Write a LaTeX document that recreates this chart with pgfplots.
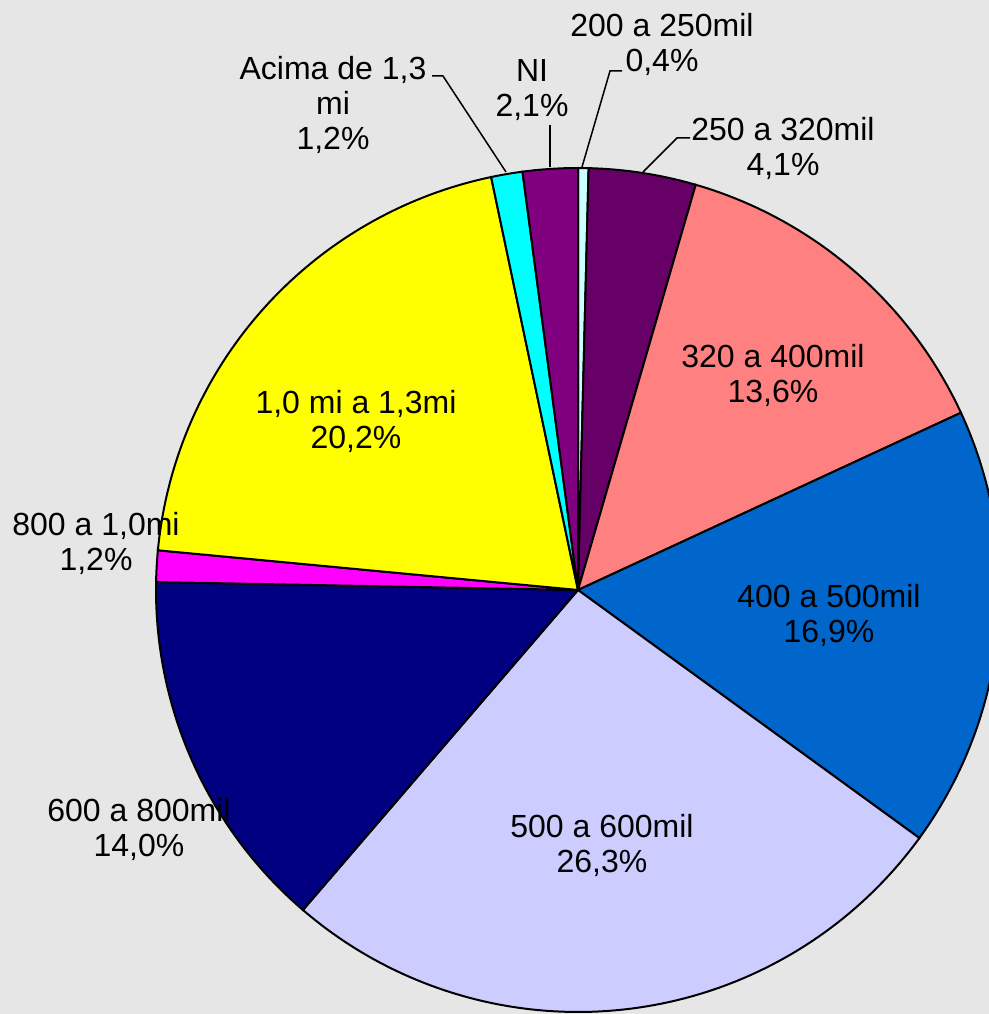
\documentclass[border=0pt]{standalone}
\usepackage{pgfplots}
\pgfplotsset{compat=1.18}
\usepackage{fontspec}
\setmainfont{Liberation Sans}
\definecolor{bg}{HTML}{E6E6E6}
\definecolor{cA}{HTML}{CCFFFF}
\definecolor{cB}{HTML}{660066}
\definecolor{cC}{HTML}{FF8080}
\definecolor{cD}{HTML}{0066CC}
\definecolor{cE}{HTML}{CCCCFF}
\definecolor{cF}{HTML}{000080}
\definecolor{cG}{HTML}{FF00FF}
\definecolor{cH}{HTML}{FFFF00}
\definecolor{cI}{HTML}{00FFFF}
\definecolor{cJ}{HTML}{800080}
\tikzset{lbl/.style={font=\fontsize{16}{17.5}\selectfont, align=center, inner sep=0pt, text=black}}
% slice: #1 cumulative share before the slice (%), #2 share (%), #3 colour
\newcommand{\slice}[3]{%
  \addplot[fill=#3, draw=black, line width=1pt, domain={90-3.6*(#1+#2)}:{90-3.6*(#1)}, samples=90, variable=\t]
    ({578+422*cos(\t)},{424+422*sin(\t)}) -- (578,424) -- cycle;}
\begin{document}
\begin{tikzpicture}
\begin{axis}[x=0.5pt, y=0.5pt, xmin=0, xmax=989, ymin=0, ymax=1014,
  hide axis, scale only axis, clip=true]
\addplot[fill=bg, draw=none] coordinates {(0,0) (989,0) (989,1014) (0,1014)} -- cycle;
\slice{0}{0.4}{cA}
\slice{0.4}{4.1}{cB}
\slice{4.5}{13.6}{cC}
\slice{18.1}{16.9}{cD}
\slice{35.0}{26.3}{cE}
\slice{61.3}{14.0}{cF}
\slice{75.3}{1.2}{cG}
\slice{76.5}{20.2}{cH}
\slice{96.7}{1.2}{cI}
\slice{97.9}{2.1}{cJ}
% leader lines
\addplot[black, line width=0.75pt] coordinates {(622,943) (610,943) (582,847)};
\addplot[black, line width=0.75pt] coordinates {(550,889) (550,847)};
\addplot[black, line width=0.75pt] coordinates {(432,938) (443,938) (506,842)};
\addplot[black, line width=0.75pt] coordinates {(690,876) (677,876) (643,842)};
% labels
\node[lbl] at (axis cs:662,969.5) {200 a 250mil\\0,4\%};
\node[lbl] at (axis cs:532,924) {NI\\2,1\%};
\node[lbl] at (axis cs:333,909) {Acima de 1,3\\mi\\1,2\%};
\node[lbl] at (axis cs:783,865.5) {250 a 320mil\\4,1\%};
\node[lbl] at (axis cs:773,639) {320 a 400mil\\13,6\%};
\node[lbl] at (axis cs:829,399) {400 a 500mil\\16,9\%};
\node[lbl] at (axis cs:602,168.5) {500 a 600mil\\26,3\%};
\node[lbl] at (axis cs:139,185) {600 a 800mil\\14,0\%};
\node[lbl] at (axis cs:96,470.5) {800 a 1,0mi\\1,2\%};
\node[lbl] at (axis cs:356,592.5) {1,0 mi a 1,3mi\\20,2\%};
\end{axis}
\end{tikzpicture}
\end{document}
